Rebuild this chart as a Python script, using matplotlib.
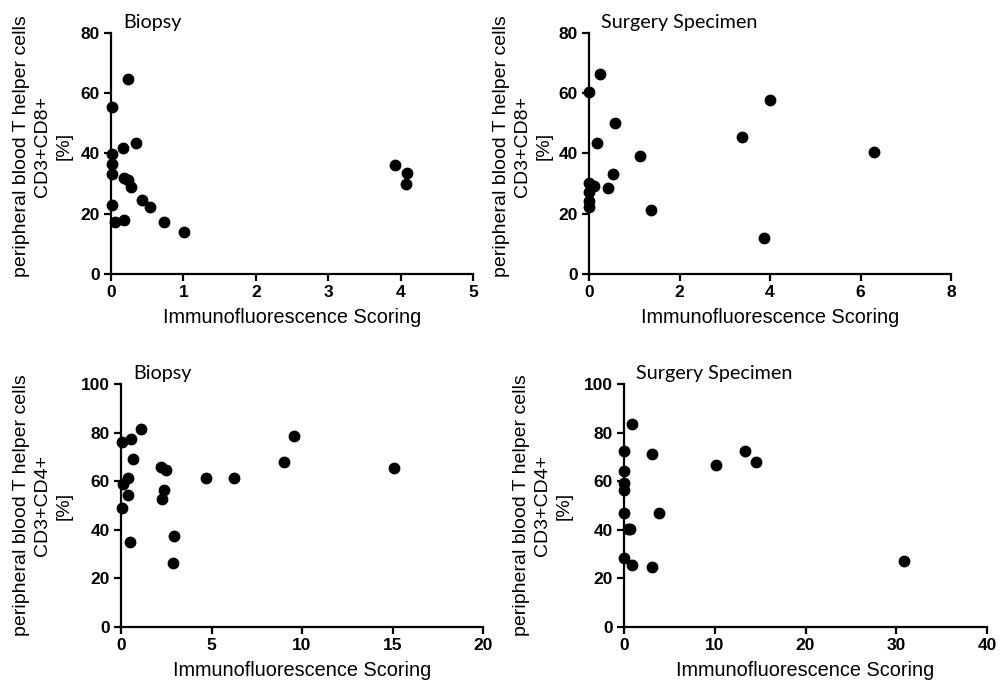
import numpy as np
import matplotlib
import matplotlib.pyplot as plt
matplotlib.use('Agg')

# CD8 - biopsy
cd8_bio_x = [0.24, 0.01, 0.01, 0.01, 0.01, 0.01, 0.05, 0.17, 0.35, 0.18, 0.23, 0.28,
             0.43, 0.54, 0.18, 0.73, 1.01, 3.92, 4.09, 4.08]
cd8_bio_y = [64.8, 55.3, 39.7, 36.6, 33.2, 22.8, 17.1, 41.9, 43.6, 31.9, 31.1, 28.8,
             24.7, 22.1, 17.9, 17.1, 13.8, 36.1, 33.4, 29.9]
# CD8 - surgery
cd8_sur_x = [0.25, 0.0, 0.57, 0.18, 4.0, 3.38, 6.29, 1.13, 0.53, 0.0, 0.11, 0.41,
             0.0, 0.0, 0.0, 1.37, 3.87]
cd8_sur_y = [66.3, 60.3, 50.2, 43.6, 57.7, 45.6, 40.5, 39.3, 33.1, 30.2, 29.3, 28.7,
             27.1, 24.2, 22.3, 21.3, 11.9]
# CD4 - biopsy
cd4_bio_x = [0.07, 0.55, 1.09, 0.66, 0.13, 0.37, 0.41, 0.07, 0.52, 2.19, 2.5, 2.39,
             2.27, 2.93, 2.87, 4.70, 6.26, 9.0, 9.58, 15.08]
cd4_bio_y = [76.2, 77.3, 81.4, 69.3, 59.0, 61.2, 54.5, 48.8, 35.1, 66.0, 64.5, 56.3,
             52.8, 37.3, 26.3, 61.2, 61.3, 68.1, 78.5, 65.5]
# CD4 - surgery
cd4_sur_x = [0.85, 0.0, 3.05, 0.0, 0.0, 0.0, 0.0, 3.9, 0.4, 0.66, 0.0, 0.92, 3.13,
             10.1, 13.3, 14.6, 30.8]
cd4_sur_y = [83.6, 72.5, 71.1, 64.4, 59.4, 56.4, 47.0, 46.9, 40.2, 40.2, 28.2, 25.7,
             24.6, 66.6, 72.5, 68.1, 27.2]

panels = [
    # x, y, title, ylab, xlim, xticks, ylim, yticks, rect, label_x, label_y
    (cd8_bio_x, cd8_bio_y, 'Biopsy', 'CD3+CD8+', 5, [0, 1, 2, 3, 4, 5], 80,
     [0, 20, 40, 60, 80], [0.111, 0.6006, 0.362, 0.3513], 0.043, 0.53),
    (cd8_sur_x, cd8_sur_y, 'Surgery Specimen', 'CD3+CD8+', 8, [0, 2, 4, 6, 8], 80,
     [0, 20, 40, 60, 80], [0.589, 0.6006, 0.362, 0.3513], 0.523, 0.53),
    (cd4_bio_x, cd4_bio_y, 'Biopsy', 'CD3+CD4+', 20, [0, 5, 10, 15, 20], 100,
     [0, 20, 40, 60, 80, 100], [0.121, 0.086, 0.362, 0.3542], 0.043, 0.5),
    (cd4_sur_x, cd4_sur_y, 'Surgery Specimen', 'CD3+CD4+', 40, [0, 10, 20, 30, 40], 100,
     [0, 20, 40, 60, 80, 100], [0.624, 0.086, 0.363, 0.3542], 0.543, 0.5),
]

plt.rcParams['font.family'] = ['Liberation Sans', 'DejaVu Sans']
fig = plt.figure(figsize=(10, 6.86), dpi=100)

for x, y, title, ylab, xmax, xt, ymax, yt, rect, lx, ly in panels:
    ax = fig.add_axes(rect)
    ax.plot(x, y, 'o', color='black', markersize=7.5, clip_on=False, zorder=5)
    ax.set_xlim(0, xmax)
    ax.set_ylim(0, ymax)
    ax.set_xticks(xt)
    ax.set_yticks(yt)
    for s in ['top', 'right']:
        ax.spines[s].set_visible(False)
    for s in ['left', 'bottom']:
        ax.spines[s].set_linewidth(1.6)
    ax.tick_params(direction='out', length=5, width=1.6, labelsize=12.5, pad=3)
    for lab in ax.get_xticklabels() + ax.get_yticklabels():
        lab.set_fontweight('bold')
    ax.set_xlabel('Immunofluorescence Scoring', fontsize=14.3, labelpad=6)
    ax.text(0.033, 1.045, title, transform=ax.transAxes, ha='left', va='center',
            fontsize=14.2, family=['Lato', 'DejaVu Sans'])
    bb = ax.get_position()
    fig.text(lx, bb.y0 + ly * bb.height,
             'peripheral blood T helper cells\n' + ylab + '\n[%]',
             rotation=90, ha='center', va='center', multialignment='center',
             fontsize=14, linespacing=1.35)

plt.savefig('out.png', dpi=100)
